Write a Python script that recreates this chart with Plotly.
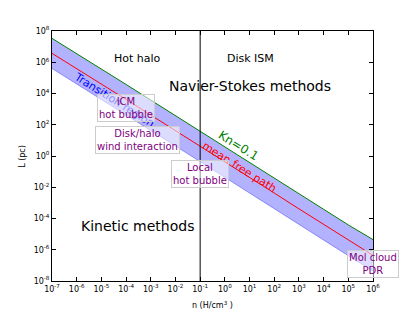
import plotly.graph_objects as go

# Data
n_vals = [1e-7, 1e-6, 1e-5, 1e-4, 1e-3, 1e-2, 1e-1, 1e0, 1e1, 1e2, 1e3, 1e4, 1e5, 1e6]
log_mfp = [6.57, 5.60, 4.62, 3.62, 2.62, 1.63, 0.63, -0.37, -1.37, -2.37, -3.38, -4.38, -5.38, -6.36]
log_kn = [7.53, 6.56, 5.58, 4.58, 3.58, 2.59, 1.59, 0.60, -0.40, -1.40, -2.41, -3.41, -4.41, -5.35]
log_low = [5.60, 4.62, 3.63, 2.63, 1.63, 0.64, -0.37, -1.37, -2.37, -3.37, -4.38, -5.38, -6.38, -7.36]

L_mfp = [10 ** v for v in log_mfp]
L_kn = [10 ** v for v in log_kn]
L_low = [10 ** v for v in log_low]

disk_n = [0.1, 0.1]
disk_L = [1e-8, 1e8]

x_tickvals = [10.0 ** k for k in range(-7, 7)]
x_ticktext = ["10<sup>%d</sup>" % k for k in range(-7, 7)]
y_tickvals = [10.0 ** k for k in range(-8, 9, 2)]
y_ticktext = ["10<sup>%d</sup>" % k for k in range(-8, 9, 2)]

FONT = "DejaVu Sans"

fig = go.Figure()
fig.add_trace(go.Scatter(x=n_vals, y=L_low, mode="lines",
                         line=dict(color="rgba(0,0,255,0.35)", width=1),
                         showlegend=False, hoverinfo="skip"))
fig.add_trace(go.Scatter(x=n_vals, y=L_kn, mode="lines", fill="tonexty",
                         fillcolor="rgba(0,0,255,0.3)",
                         line=dict(color="green", width=1),
                         showlegend=False))
fig.add_trace(go.Scatter(x=n_vals, y=L_mfp, mode="lines",
                         line=dict(color="red", width=1), showlegend=False))
fig.add_trace(go.Scatter(x=disk_n, y=disk_L, mode="lines",
                         line=dict(color="black", width=1), showlegend=False))

axis_common = dict(type="log", showgrid=False, zeroline=False, showline=True,
                   linecolor="black", linewidth=1, mirror="ticks",
                   ticks="inside", ticklen=4, tickcolor="black", automargin=False,
                   tickfont=dict(family=FONT, size=8, color="black"))

fig.update_xaxes(range=[-7, 6], tickvals=x_tickvals, ticktext=x_ticktext,
                 **axis_common)
fig.update_yaxes(range=[-8, 8], tickvals=y_tickvals, ticktext=y_ticktext,
                 **axis_common)

annots = []
def txt(x, y, s, size, color="black", angle=0, box=False):
    d = dict(x=x, y=y, xref="x", yref="y", text=s, showarrow=False,
             font=dict(family=FONT, size=size, color=color), textangle=angle,
             xanchor="center", yanchor="middle", align="center")
    if box:
        d.update(bgcolor="rgba(255,255,255,0.55)", bordercolor="#cccccc",
                 borderwidth=1, borderpad=1)
    annots.append(d)

txt(-3.52, 6.27, "Hot halo", 11)
txt(1.02, 6.27, "Disk ISM", 11)
txt(1.0, 4.47, "Navier-Stokes methods", 14)
txt(-3.54, -4.5, "Kinetic methods", 14)
txt(-4.45, 3.58, "Transition region", 11, color="blue", angle=32)
txt(0.57, 0.63, "Kn=0.1", 12, color="green", angle=32)
txt(0.61, -0.72, "mean free path", 11, color="red", angle=32)
txt(-4.0, 3.06, "ICM<br>hot bubble", 10, color="purple", box=True)
txt(-3.52, 1.01, "Disk/halo<br>wind interaction", 10, color="purple", box=True)
txt(-0.99, -1.12, "Local<br>hot bubble", 10, color="purple", box=True)
txt(5.99, -6.94, "Mol cloud<br>PDR", 10, color="purple", box=True)

# axis titles
annots.append(dict(x=-0.094, y=0.5, xref="paper", yref="paper", text="L (pc)",
                   showarrow=False, textangle=-90, xanchor="center", yanchor="middle",
                   font=dict(family=FONT, size=8, color="black")))
annots.append(dict(x=0.5, y=-0.096, xref="paper", yref="paper",
                   text="n (H/cm<sup>3</sup> )", showarrow=False,
                   xanchor="center", yanchor="middle",
                   font=dict(family=FONT, size=8, color="black")))

# page body has an 8px margin, so the figure is shrunk by that amount
fig.update_layout(width=407, height=304, margin=dict(l=44, r=42, t=23, b=31),
                  paper_bgcolor="white", plot_bgcolor="white",
                  annotations=annots, font=dict(family=FONT))

fig.write_html("out.html")
